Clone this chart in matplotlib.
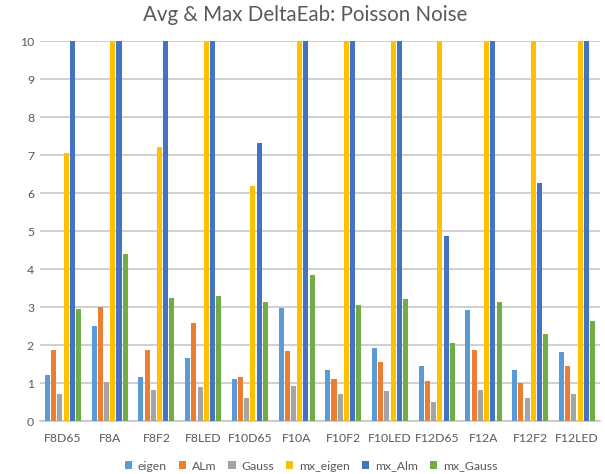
import numpy as np
import matplotlib
matplotlib.use("Agg")
import matplotlib.pyplot as plt

# illuminant / source combinations
categories = ["F8D65", "F8A", "F8F2", "F8LED", "F10D65", "F10A", "F10F2",
              "F10LED", "F12D65", "F12A", "F12F2", "F12LED"]

# average DeltaEab per method
eigen = [1.21, 2.51, 1.16, 1.66, 1.11, 2.98, 1.34, 1.92, 1.46, 2.91, 1.34, 1.82]
alm = [1.86, 3.01, 1.87, 2.58, 1.16, 1.84, 1.11, 1.54, 1.04, 1.87, 1.01, 1.46]
gauss = [0.70, 1.03, 0.81, 0.89, 0.61, 0.93, 0.70, 0.79, 0.50, 0.81, 0.61, 0.70]

# maximum DeltaEab per method (values above 10 run off the top of the axis)
mx_eigen = [7.06, 12.0, 7.21, 12.0, 6.18, 12.0, 12.0, 12.0, 12.0, 12.0, 12.0, 12.0]
mx_alm = [12.0, 12.0, 12.0, 12.0, 7.32, 12.0, 12.0, 12.0, 4.88, 12.0, 6.26, 12.0]
mx_gauss = [2.95, 4.39, 3.25, 3.30, 3.13, 3.84, 3.05, 3.21, 2.05, 3.13, 2.29, 2.63]

series = [
    ("eigen", eigen, "#5B9BD5"),
    ("ALm", alm, "#ED7D31"),
    ("Gauss", gauss, "#A5A5A5"),
    ("mx_eigen", mx_eigen, "#FFC000"),
    ("mx_Alm", mx_alm, "#4472C4"),
    ("mx_Gauss", mx_gauss, "#70AD47"),
]

plt.rcParams["font.family"] = ["Lato", "DejaVu Sans"]

fig = plt.figure(figsize=(6.05, 4.74), dpi=100)
ax = fig.add_axes([39.6 / 605, 1 - 421 / 474, 560.7 / 605, 380 / 474])

x = np.arange(len(categories))
pitch = 0.133
width = 0.108
for i, (name, vals, col) in enumerate(series):
    ax.bar(x + (i - 2.5) * pitch, vals, width, color=col, label=name, zorder=3)

ax.set_xlim(-0.5, len(categories) - 0.5)
ax.set_ylim(0, 10)
ax.set_yticks(range(0, 11))
ax.set_xticks(x)
ax.set_xticklabels(categories)
ax.tick_params(axis="both", length=0, labelsize=8.8, labelcolor="#595959")
ax.tick_params(axis="x", pad=9)
ax.tick_params(axis="y", pad=4)
ax.grid(axis="y", color="#C4C4C4", linewidth=1.1, zorder=0)
for side in ["left", "right", "top"]:
    ax.spines[side].set_visible(False)
ax.spines["bottom"].set_color("#C4C4C4")
ax.spines["bottom"].set_linewidth(1.1)

fig.suptitle("Avg & Max DeltaEab: Poisson Noise", x=0.504, y=0.99,
             fontsize=14.8, color="#595959")

fig.legend(loc="lower center", bbox_to_anchor=(0.514, -0.018), ncol=6,
           frameon=False, fontsize=8.8, labelcolor="#595959",
           handlelength=0.6, handleheight=0.6, handletextpad=0.45,
           columnspacing=1.0)

fig.savefig("out.png", dpi=100)
